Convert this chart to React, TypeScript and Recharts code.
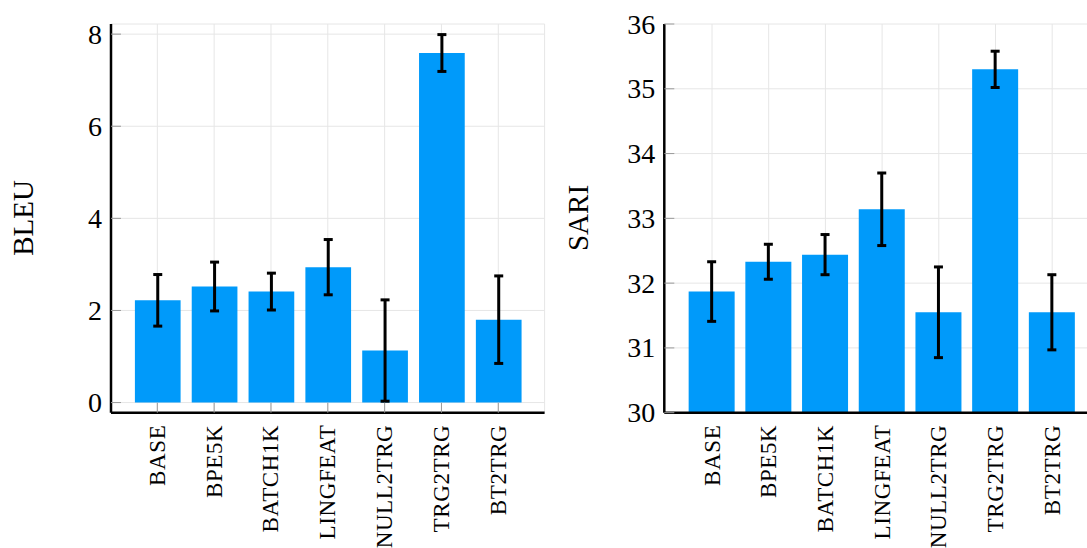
import React from 'react';
import { BarChart, Bar, XAxis, YAxis, CartesianGrid, ErrorBar } from 'recharts';

const categories = ['BASE', 'BPE5K', 'BATCH1K', 'LINGFEAT', 'NULL2TRG', 'TRG2TRG', 'BT2TRG'];
const bleuValues = [2.22, 2.52, 2.41, 2.94, 1.13, 7.59, 1.8];
const bleuErrors = [0.56, 0.53, 0.4, 0.6, 1.1, 0.4, 0.95];
const sariValues = [31.87, 32.33, 32.44, 33.14, 31.55, 35.3, 31.55];
const sariErrors = [0.46, 0.27, 0.31, 0.56, 0.7, 0.28, 0.58];
const bleuTicks = [0, 2, 4, 6, 8];
const sariTicks = [30, 31, 32, 33, 34, 35, 36];

const bleuData = categories.map((c, i) => ({ name: c, value: bleuValues[i], err: bleuErrors[i] }));
const sariData = categories.map((c, i) => ({ name: c, value: sariValues[i], err: sariErrors[i] }));

const FONT = "Liberation Serif, DejaVu Serif, serif";
const BLUE = '#009AFA';

const YTick = (props: any) => {
  const { x, y, payload } = props;
  return (
    <g>
      <line x1={x} x2={x + 10} y1={y} y2={y} stroke="#9a9a9a" strokeWidth={1} />
      <text x={x - 9} y={y} textAnchor="end" dominantBaseline="central" style={{ fontFamily: FONT, fontSize: 28 }} fill="#000">
        {payload.value}
      </text>
    </g>
  );
};

const makeXTick = (showLine: boolean) => (props: any) => {
  const { x, y, payload } = props;
  return (
    <g>
      {showLine && <line x1={x} x2={x} y1={y} y2={y - 10} stroke="#9a9a9a" strokeWidth={1} />}
      <text
        transform={`translate(${x},${y + 12}) rotate(-90)`}
        textAnchor="end"
        dominantBaseline="central"
        style={{ fontFamily: FONT, fontSize: 23, letterSpacing: 0.6 }}
        fill="#000"
      >
        {payload.value}
      </text>
    </g>
  );
};

const YLabel = (props: any) => {
  const { lx, ly, text } = props;
  return (
    <text
      x={lx}
      y={ly}
      transform={`rotate(-90, ${lx}, ${ly})`}
      textAnchor="middle"
      dominantBaseline="central"
      style={{ fontFamily: FONT, fontSize: 29 }}
      fill="#000"
    >
      {text}
    </text>
  );
};

const Panel = (p: {
  data: any[];
  domain: [number, number];
  ticks: number[];
  yAxisWidth: number;
  width: number;
  rightMargin: number;
  pad: number;
  barSize: number;
  label: string;
  labelX: number;
  xTickLines: boolean;
}) => (
  <BarChart
    width={p.width}
    height={548}
    data={p.data}
    margin={{ top: 24, right: p.rightMargin, bottom: 0, left: 0 }}
  >
    <CartesianGrid stroke="#e6e6e6" strokeWidth={1} />
    <XAxis
      dataKey="name"
      height={135.3}
      padding={{ left: p.pad, right: p.pad }}
      tickSize={0}
      tickMargin={0}
      tickLine={false}
      axisLine={{ stroke: '#000', strokeWidth: 2.5 }}
      tick={makeXTick(p.xTickLines)}
      interval={0}
    />
    <YAxis
      width={p.yAxisWidth}
      domain={p.domain}
      ticks={p.ticks}
      type="number"
      allowDataOverflow
      tickSize={0}
      tickMargin={0}
      tickLine={false}
      axisLine={{ stroke: '#000', strokeWidth: 2.5 }}
      tick={YTick}
      label={<YLabel lx={p.labelX} ly={218} text={p.label} />}
    />
    <Bar dataKey="value" fill={BLUE} barSize={p.barSize} isAnimationActive={false}>
      <ErrorBar dataKey="err" width={4.5} strokeWidth={3} stroke="#000" direction="y" isAnimationActive={false} />
    </Bar>
  </BarChart>
);

export default function App() {
  return (
    <div
      style={{
        position: 'absolute',
        left: 0,
        top: 0,
        width: 1087,
        height: 548,
        overflow: 'hidden',
        background: '#fff',
      }}
    >
      <div style={{ position: 'absolute', left: 0, top: 0 }}>
        <Panel
          data={bleuData}
          domain={[-0.22, 8.22]}
          ticks={bleuTicks}
          yAxisWidth={111}
          width={560}
          rightMargin={15.4}
          pad={17.9}
          barSize={45.7}
          label="BLEU"
          labelX={23}
          xTickLines={true}
        />
      </div>
      <div style={{ position: 'absolute', left: 560, top: 0 }}>
        <Panel
          data={sariData}
          domain={[30, 36]}
          ticks={sariTicks}
          yAxisWidth={104.3}
          width={560}
          rightMargin={20.1}
          pad={19.35}
          barSize={46}
          label="SARI"
          labelX={18}
          xTickLines={false}
        />
      </div>
    </div>
  );
}
